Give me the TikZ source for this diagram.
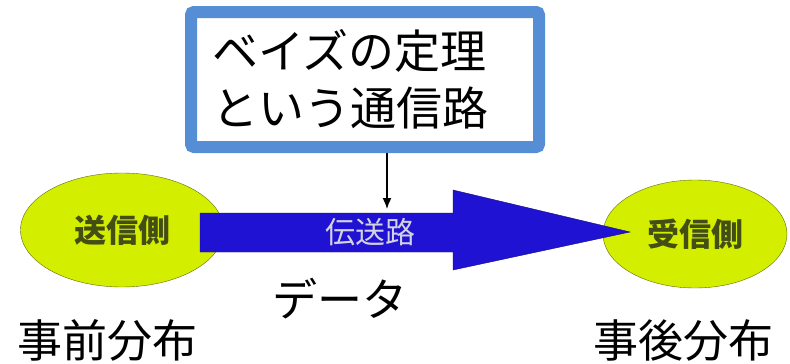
\documentclass[tikz,border=0pt]{standalone}
\usepackage{fontspec}
\newfontfamily\jp{Noto Sans CJK JP}
\usetikzlibrary{shapes.geometric, arrows.meta}
\definecolor{boxblue}{RGB}{85,142,213}
\definecolor{pipeblue}{RGB}{32,18,210}
\definecolor{lime}{RGB}{212,238,0}
\definecolor{olive}{RGB}{96,110,10}
\definecolor{olivetext}{RGB}{66,78,20}
\tikzset{
	party/.style={ellipse, draw=olive, fill=lime, inner sep=0, font=\jp\bfseries\fontsize{32}{36}\selectfont, text=olivetext},
	label/.style={font=\jp\fontsize{45}{50}\selectfont}
}
\begin{document}
\begin{tikzpicture}[x=1pt, y=-1pt]
		\useasboundingbox (0, 0) rectangle (790, 364);
		% sender and receiver
		\node[party, minimum width=203, minimum height=114] (sender) at (122, 230) {送信側};
		\node[party, minimum width=184, minimum height=108] (receiver) at (695, 234) {受信側};
		% channel
		\filldraw[draw=pipeblue!60!black, fill=pipeblue] (200, 213) -- (453, 213) -- (453, 190) -- (630, 232) -- (453, 270) -- (453, 252) -- (200, 252) -- cycle;
		\node[font=\jp\fontsize{30}{34}\selectfont, text=blue!15!gray!30] (pipe) at (370, 232) {伝送路};
		% Bayes box
		\node[draw=boxblue, line width=12pt, rounded corners=3pt, fill=white, text width=306pt, inner xsep=21pt, minimum height=135pt, align=left, font=\jp\fontsize{46}{57}\selectfont] (bayes) at (365, 79.5) {ベイズの定理\\という通信路};
		\coordinate (top) at (387, 209);
		\draw[-{Latex[length=11pt, width=9pt]}, line width=1.5pt] (bayes.south -| top) -- (top);
		% labels
		\node[label] (data) at (340, 299) {データ};
		\node[label] (prior) at (107, 340) {事前分布};
		\node[label] (posterior) at (683, 340) {事後分布};
	\end{tikzpicture}
\end{document}
